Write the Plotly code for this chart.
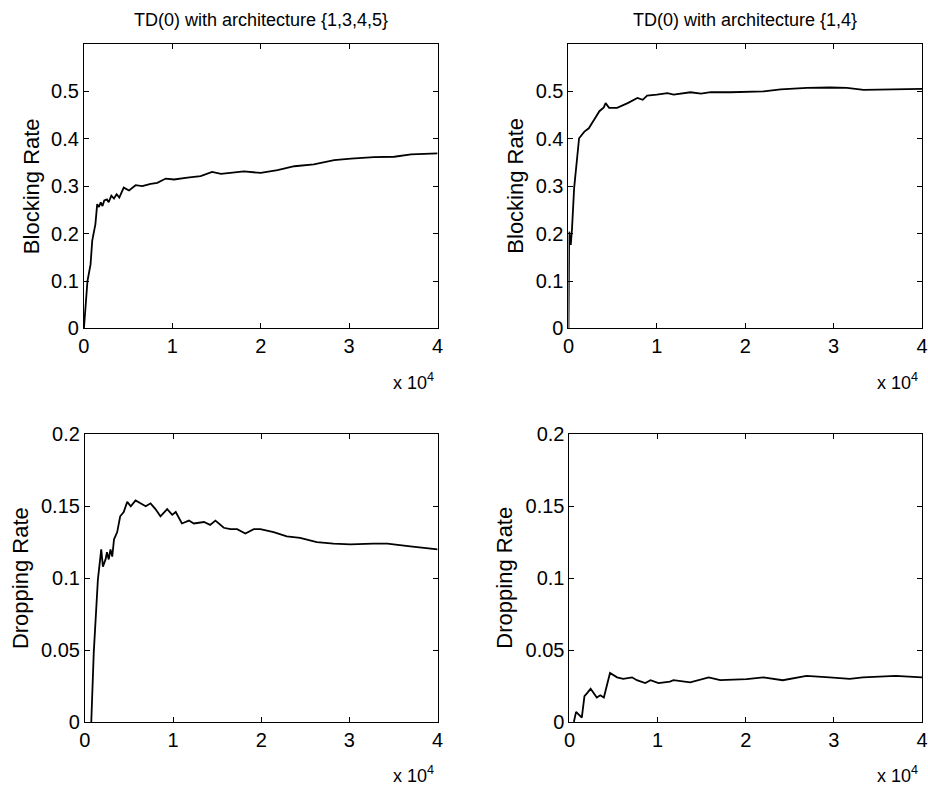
import plotly.graph_objects as go

# x in units of 10^4 iterations
blk1345_x = [0, 0.04, 0.075, 0.094, 0.13, 0.15, 0.17, 0.19, 0.21, 0.23, 0.26, 0.28, 0.31, 0.34, 0.37, 0.40, 0.45,
             0.51, 0.585, 0.66, 0.755, 0.83, 0.925, 1.02, 1.17, 1.32, 1.45, 1.55, 1.81, 2.0, 2.19, 2.38, 2.6,
             2.83, 3.02, 3.28, 3.51, 3.7, 4.0]
blk1345_y = [0, 0.10, 0.135, 0.185, 0.22, 0.262, 0.256, 0.266, 0.258, 0.270, 0.272, 0.266, 0.280, 0.274, 0.283, 0.276, 0.297,
             0.291, 0.302, 0.300, 0.305, 0.307, 0.316, 0.314, 0.318, 0.321, 0.330, 0.326, 0.331, 0.328, 0.334, 0.342, 0.346,
             0.355, 0.358, 0.361, 0.362, 0.367, 0.369]

blk14_x = [0, 0.008, 0.026, 0.04, 0.064, 0.083, 0.12, 0.18, 0.23, 0.29, 0.35, 0.40, 0.42, 0.46, 0.55, 0.67, 0.78,
           0.84, 0.89, 1.0, 1.12, 1.19, 1.38, 1.5, 1.61, 1.83, 2.06, 2.21, 2.4, 2.7, 2.96, 3.15, 3.34, 3.53, 4.0]
blk14_y = [0, 0.204, 0.176, 0.21, 0.296, 0.331, 0.401, 0.415, 0.422, 0.44, 0.458, 0.466, 0.475, 0.465, 0.465, 0.475, 0.486,
           0.482, 0.491, 0.493, 0.496, 0.493, 0.498, 0.495, 0.498, 0.498, 0.5, 0.5, 0.504, 0.507, 0.508, 0.507, 0.503, 0.504, 0.505]

drp1345_x = [0.072, 0.10, 0.147, 0.17, 0.185, 0.204, 0.234, 0.25, 0.27, 0.29, 0.31, 0.33, 0.366, 0.40, 0.44, 0.48, 0.52,
             0.574, 0.63, 0.69, 0.744, 0.80, 0.857, 0.933, 0.99, 1.03, 1.10, 1.18, 1.235, 1.35, 1.42, 1.48, 1.575,
             1.65, 1.726, 1.82, 1.915, 1.99, 2.14, 2.29, 2.44, 2.63, 2.82, 3.01, 3.27, 3.43, 3.69, 4.0]
drp1345_y = [0, 0.048, 0.099, 0.111, 0.120, 0.108, 0.113, 0.118, 0.113, 0.120, 0.115, 0.127, 0.132, 0.143, 0.146, 0.153, 0.150,
             0.154, 0.152, 0.150, 0.152, 0.148, 0.143, 0.148, 0.144, 0.146, 0.138, 0.140, 0.138, 0.139, 0.137, 0.140, 0.135,
             0.134, 0.134, 0.131, 0.134, 0.134, 0.132, 0.129, 0.128, 0.125, 0.124, 0.1235, 0.124, 0.124, 0.122, 0.120]

drp14_x = [0.05, 0.075, 0.14, 0.17, 0.20, 0.24, 0.31, 0.35, 0.39, 0.43, 0.46, 0.54, 0.61, 0.71, 0.765, 0.86, 0.92,
           1.01, 1.14, 1.18, 1.37, 1.58, 1.71, 2.01, 2.2, 2.42, 2.575, 2.69, 2.95, 3.18, 3.33, 3.7, 4.0]
drp14_y = [0, 0.007, 0.003, 0.018, 0.020, 0.023, 0.017, 0.0185, 0.017, 0.027, 0.034, 0.031, 0.030, 0.031, 0.029, 0.027, 0.029,
           0.027, 0.028, 0.029, 0.0275, 0.031, 0.029, 0.0297, 0.031, 0.029, 0.0307, 0.032, 0.031, 0.030, 0.031, 0.032, 0.031]

titles = ["TD(0) with architecture {1,3,4,5}", "TD(0) with architecture {1,4}"]
ylabels = ["Blocking Rate", "Blocking Rate", "Dropping Rate", "Dropping Rate"]

W, H = 928, 790
FONT = "Liberation Sans, Arial, Helvetica, sans-serif"

# target pixel boxes in the picture: (left, right, top, bottom)
boxes = [(83, 437, 43, 328), (568, 922, 43, 328), (84, 437, 434, 722), (569, 922, 434, 722)]
label_off = [53, 53, 65, 65]
series = [(blk1345_x, blk1345_y), (blk14_x, blk14_y), (drp1345_x, drp1345_y), (drp14_x, drp14_y)]
yranges = [[0, 0.6], [0, 0.6], [0, 0.2], [0, 0.2]]
yticks = [[0, 0.1, 0.2, 0.3, 0.4, 0.5], [0, 0.1, 0.2, 0.3, 0.4, 0.5],
          [0, 0.05, 0.1, 0.15, 0.2], [0, 0.05, 0.1, 0.15, 0.2]]
ytext = [["0", "0.1", "0.2", "0.3", "0.4", "0.5"], ["0", "0.1", "0.2", "0.3", "0.4", "0.5"],
         ["0", "0.05", "0.1", "0.15", "0.2"], ["0", "0.05", "0.1", "0.15", "0.2"]]


# the photographed page comes out slightly shrunk and shifted; undo that
def px(x):
    return min(max((x - 5) / 0.988 / W, 0), 1)


def py(y):
    return min(max(1 - (y - 10.1) / 0.9735 / H, 0), 1)


fig = go.Figure()
annotations = []
for i, ((l, r, t, b), (xs, ys)) in enumerate(zip(boxes, series)):
    n = "" if i == 0 else str(i + 1)
    fig.add_trace(go.Scatter(x=xs, y=ys, mode="lines", line=dict(color="black", width=1.8),
                             xaxis="x" + n, yaxis="y" + n, showlegend=False))
    axstyle = dict(showline=True, linecolor="black", linewidth=1, mirror="ticks", ticks="inside",
                   ticklen=5, tickcolor="black", showgrid=False, zeroline=False,
                   tickfont=dict(family=FONT, size=20, color="black"))
    fig.update_layout(**{
        "xaxis" + n: dict(domain=[px(l), px(r)], anchor="y" + n, range=[0, 4],
                          tickvals=[0, 1, 2, 3, 4], ticktext=["0", "1", "2", "3", "4"], **axstyle),
        "yaxis" + n: dict(domain=[py(b), py(t)], anchor="x" + n, range=yranges[i],
                          tickvals=yticks[i], ticktext=ytext[i], **axstyle),
    })
    annotations.append(dict(x=px(l - label_off[i]), y=py((t + b) / 2), xref="paper", yref="paper",
                            xanchor="center", yanchor="middle",
                            text=ylabels[i], textangle=-90, showarrow=False,
                            font=dict(family=FONT, size=22, color="black")))
    annotations.append(dict(x=px(r - 2), y=py(b + 53), xref="paper", yref="paper",
                            xanchor="right", yanchor="middle", text="x 10<sup>4</sup>", showarrow=False,
                            font=dict(family=FONT, size=18, color="black")))
    if i < 2:
        annotations.append(dict(x=px((l + r) / 2), y=py(19), xref="paper", yref="paper",
                                xanchor="center", yanchor="middle",
                                text=titles[i], showarrow=False,
                                font=dict(family=FONT, size=18, color="black")))

fig.update_layout(width=W, height=H, margin=dict(l=0, r=0, t=0, b=0),
                  paper_bgcolor="white", plot_bgcolor="white", annotations=annotations)
# drop the default 8px body margin so the figure sits at the page origin
fig.write_html("out.html", config={"displayModeBar": False},
               post_script="document.body.style.margin='0px';")
